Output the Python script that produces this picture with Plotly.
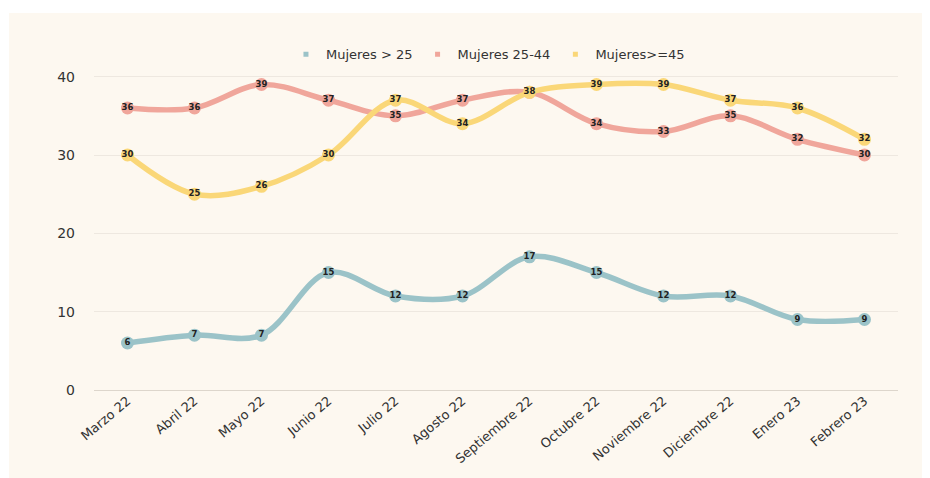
import plotly.graph_objects as go

months = ["Marzo 22", "Abril 22", "Mayo 22", "Junio 22", "Julio 22", "Agosto 22",
          "Septiembre 22", "Octubre 22", "Noviembre 22", "Diciembre 22", "Enero 23", "Febrero 23"]
mujeres_25 = [6, 7, 7, 15, 12, 12, 17, 15, 12, 12, 9, 9]
mujeres_25_44 = [36, 36, 39, 37, 35, 37, 38, 34, 33, 35, 32, 30]
mujeres_45 = [30, 25, 26, 30, 37, 34, 38, 39, 39, 37, 36, 32]

series = [
    ("Mujeres > 25", mujeres_25, "#9BC3C8"),
    ("Mujeres 25-44", mujeres_25_44, "#F0A69B"),
    ("Mujeres>=45", mujeres_45, "#FAD778"),
]

fig = go.Figure()
for name, vals, col in series:
    fig.add_trace(go.Scatter(
        x=months, y=vals, mode="lines+markers+text", name=name, showlegend=False,
        line=dict(color=col, width=5.5, shape="spline", smoothing=1),
        marker=dict(color=col, size=13),
        text=[f"<b>{v}</b>" for v in vals], textposition="middle center",
        textfont=dict(family="DejaVu Sans", size=8.5, color="#222222"),
        hoverinfo="skip", cliponaxis=False,
    ))
for name, vals, col in series:
    fig.add_trace(go.Scatter(
        x=[None], y=[None], mode="markers", name=name,
        marker=dict(color=col, size=5, symbol="square"),
    ))

L, T, W, H = 86, 53, 804, 329
fig.add_shape(type="rect", xref="paper", yref="paper",
              x0=(1 - L) / W, x1=2, y0=-1, y1=(T + H - 5) / H,
              fillcolor="#FDF8F0", line=dict(width=0), layer="below")

fig.update_layout(
    width=930, height=478,
    margin=dict(l=L, r=930 - L - W, t=T, b=478 - T - H),
    paper_bgcolor="white", plot_bgcolor="rgba(0,0,0,0)",
    font=dict(family="DejaVu Sans", color="#333333"),
    legend=dict(orientation="h", x=0.49, xanchor="center", y=1.02, yanchor="middle",
                font=dict(size=13, color="#333333"), bgcolor="rgba(0,0,0,0)",
                itemwidth=30, tracegroupgap=0),
    xaxis=dict(type="category", range=[-0.5, 11.5], showgrid=False, showline=False,
               tickangle=-40, tickfont=dict(size=13, color="#333333"), ticks=""),
    yaxis=dict(range=[0, 42], tickvals=[0, 10, 20, 30, 40], showgrid=True,
               gridcolor="#EEE8E0", zeroline=True, zerolinecolor="#DDD6CC",
               zerolinewidth=1, tickfont=dict(size=14, color="#333333"),
               ticklabelstandoff=18),
)

fig.write_html("out.html")
